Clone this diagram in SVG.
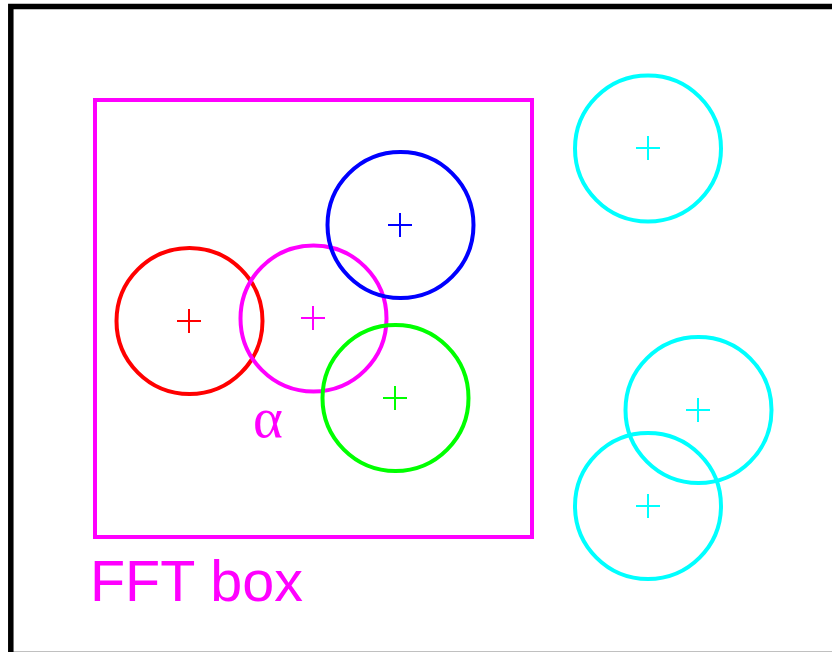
<svg xmlns="http://www.w3.org/2000/svg" width="832" height="652" viewBox="0 0 832 652">
<style>
.c{fill:none;stroke-width:4}
.x{stroke-width:2}
</style>
<rect width="832" height="652" fill="#fff"/>
<rect x="10.8" y="6.5" width="830" height="648" fill="none" stroke="#000" stroke-width="5.5"/>
<g id="fft-box">
<rect x="95" y="100" width="437" height="437" fill="none" stroke="#f0f" stroke-width="4"/>
<text x="90" y="601" font-family="'Liberation Sans', Arial, sans-serif" font-size="57.5" fill="#f0f">FFT box</text>
</g>
<g id="alpha"><text x="253" y="437" font-family="'Liberation Serif', 'Times New Roman', serif" font-size="57" fill="#f0f">α</text></g>
<g id="red" stroke="#f00"><circle class="c" cx="189.5" cy="321" r="73"/><path class="x" d="M177 321h24M189 309v24"/></g>
<g id="magenta" stroke="#f0f"><circle class="c" cx="313.5" cy="318.5" r="73"/><path class="x" d="M301 318h24M313 306v24"/></g>
<g id="blue" stroke="#00f"><circle class="c" cx="400.5" cy="225" r="73"/><path class="x" d="M388 225h24M400 213v24"/></g>
<g id="green" stroke="#0f0"><circle class="c" cx="395.5" cy="398" r="73"/><path class="x" d="M383 398h24M395 386v24"/></g>
<g id="cyan1" stroke="#0ff"><circle class="c" cx="648" cy="148.5" r="73"/><path class="x" d="M636 148h24M648 136v24"/></g>
<g id="cyan2" stroke="#0ff"><circle class="c" cx="698.5" cy="410" r="73"/><path class="x" d="M686 410h24M698 398v24"/></g>
<g id="cyan3" stroke="#0ff"><circle class="c" cx="648" cy="506" r="73"/><path class="x" d="M636 506h24M648 494v24"/></g>
</svg>
